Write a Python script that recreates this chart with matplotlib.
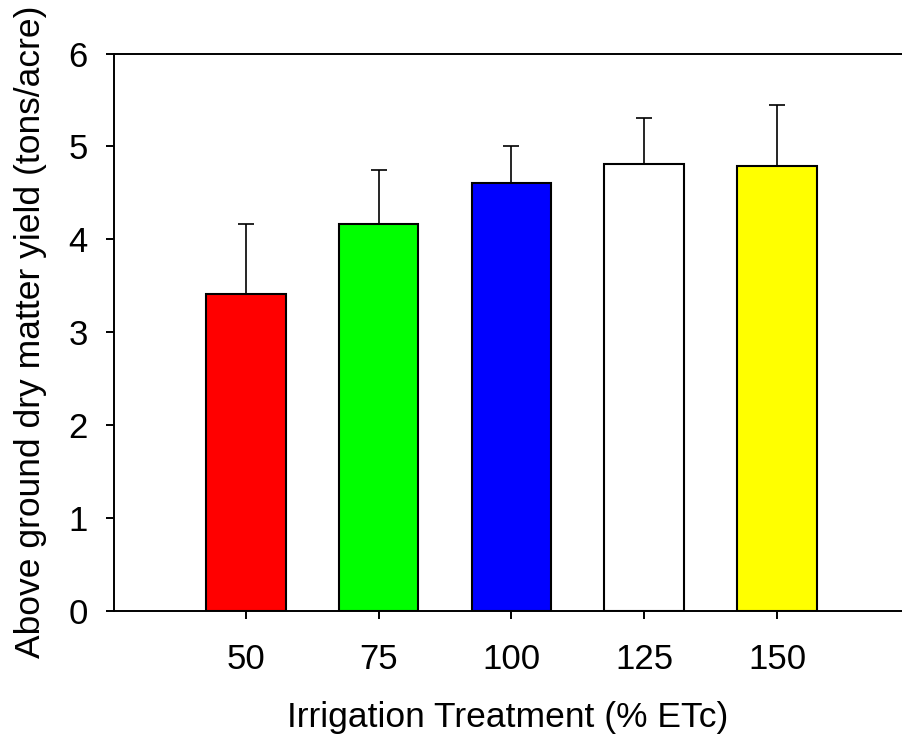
import numpy as np
import matplotlib
matplotlib.use("Agg")
import matplotlib.pyplot as plt

plt.rcParams['font.family'] = ['Liberation Sans', 'DejaVu Sans']

# data
treatments = ['50', '75', '100', '125', '150']
yield_mean = [3.41, 4.17, 4.61, 4.81, 4.79]
yield_err = [0.75, 0.58, 0.39, 0.50, 0.66]
bar_colors = ['#ff0000', '#00ff00', '#0000ff', '#ffffff', '#ffff00']

fig = plt.figure(figsize=(9.02, 7.35), dpi=100)
ax = fig.add_axes([0.1264, 0.1691, 0.8736, 0.758])

x = np.arange(len(treatments))
ax.bar(x, yield_mean, width=0.6, color=bar_colors, edgecolor='black', linewidth=1.5, zorder=2)
ax.errorbar(x, yield_mean, yerr=[np.zeros(len(x)), yield_err], fmt='none',
            ecolor='black', elinewidth=1.2, capsize=5.8, capthick=1.2, zorder=1)

ax.set_xlim(-0.992, 4.94)
ax.set_ylim(0, 6)
ax.set_xticks(x)
ax.set_xticklabels(treatments)
ax.set_yticks(range(0, 7))

ax.spines['right'].set_visible(False)
for side in ['left', 'top', 'bottom']:
    ax.spines[side].set_linewidth(1.4)

ax.tick_params(axis='both', direction='out', length=6, width=1.4, labelsize=25)
ax.tick_params(axis='x', pad=17)
ax.tick_params(axis='y', pad=13)

ax.set_xlabel('Irrigation Treatment (% ETc)', fontsize=25.5, labelpad=18)
ax.set_ylabel('Above ground dry matter yield (tons/acre)', fontsize=25.5, labelpad=15)

fig.savefig('out.png', dpi=100)
